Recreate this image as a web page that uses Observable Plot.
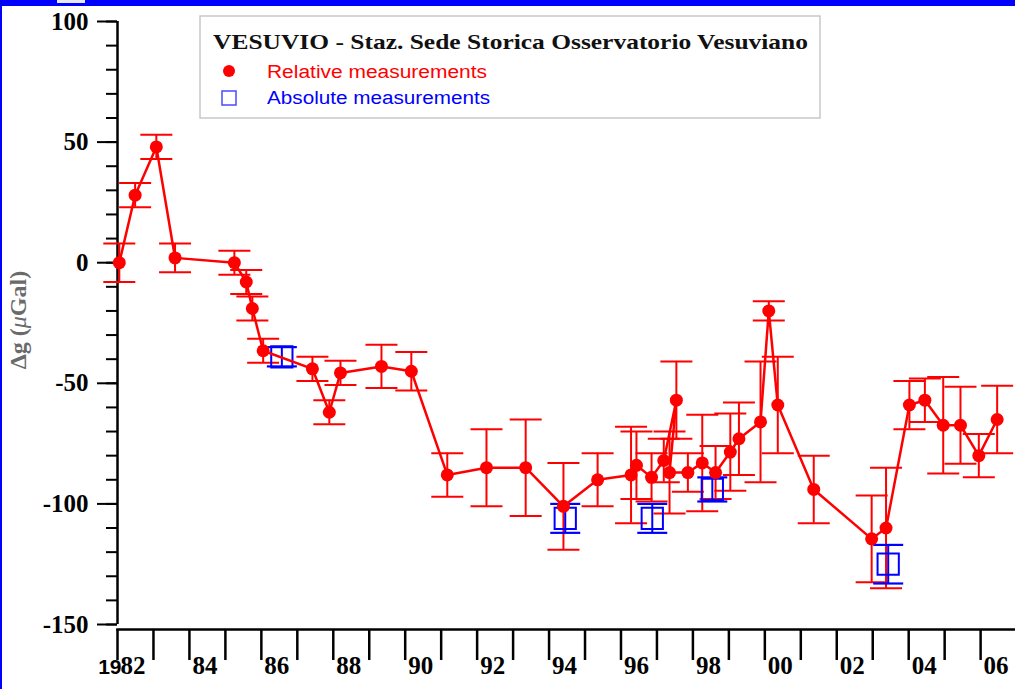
<!DOCTYPE html>
<html><head><meta charset="utf-8">
<script src="https://cdn.jsdelivr.net/npm/d3@7"></script>
<script src="https://cdn.jsdelivr.net/npm/@observablehq/plot@0.6"></script>
<style>
html,body{margin:0;padding:0;background:#fff;}
#chart{position:relative;width:1015px;height:689px;overflow:hidden;}
</style></head><body><div id="chart"></div>
<script>
// Relative measurements (red)
const relYear = [1982.05, 1982.49, 1983.08, 1983.6, 1985.25, 1985.58, 1985.75, 1986.05, 1987.42, 1987.89, 1988.2, 1989.34, 1990.17, 1991.17, 1992.26, 1993.35, 1994.4, 1995.35, 1996.28, 1996.43, 1996.85, 1997.19, 1997.54, 1997.35, 1997.86, 1998.26, 1998.63, 1999.04, 1999.28, 1999.88, 2000.11, 2000.36, 2001.36, 2002.97, 2003.37, 2004.02, 2004.45, 2004.96, 2005.44, 2005.95, 2006.46];
const relValue = [0, 28, 48, 2, 0, -8, -19, -36.5, -44, -62, -45.7, -43, -45, -88, -85, -85, -101, -90, -88, -84, -89, -82, -57, -87, -87, -83, -87, -78.5, -73, -66, -20, -59, -94, -114.5, -110, -59, -57, -67.4, -67.4, -80, -65];
const relErr = [8, 5, 5, 6, 5, 5, 5, 5, 5, 5, 5, 9, 8, 9, 16, 20, 18, 11, 20, 14, 10, 9, 16, 17, 8, 20, 11, 16, 15, 25, 4, 20, 14, 18, 25, 10, 9, 20, 16, 9, 14];

// Absolute measurements (blue)
const absYear = [1986.57, 1994.45, 1996.87, 1998.54, 2003.43];
const absValue = [-39, -106, -106, -94, -125];
const absErr = [4, 6, 6, 5, 8];

// Axis ticks and labels
const yTicksMajor = [-150, -100, -50, 0, 50, 100];
const yTicksMinor = [-150, -140, -130, -120, -110, -100, -90, -80, -70, -60, -50, -40, -30, -20, -10, 0, 10, 20, 30, 40, 50, 60, 70, 80, 90, 100];
const xTickYears = [1982, 1983, 1984, 1985, 1986, 1987, 1988, 1989, 1990, 1991, 1992, 1993, 1994, 1995, 1996, 1997, 1998, 1999, 2000, 2001, 2002, 2003, 2004, 2005, 2006];
const xLabelYears = [1982, 1984, 1986, 1988, 1990, 1992, 1994, 1996, 1998, 2000, 2002, 2004, 2006];
const xLabels = ["82", "84", "86", "88", "90", "92", "94", "96", "98", "00", "02", "04", "06"];
const centuryPrefix = ["19"];
const yDomain = [-150, 100];
const xDomain = [1982, 2006.97];

const titleText = "VESUVIO - Staz. Sede Storica Osservatorio Vesuviano";
const legendLabels = ["Relative measurements", "Absolute measurements"];
const yAxisLabel = ["Δg (", "μ", "Gal)"];

const rel = relYear.map((x, i) => ({x, y: relValue[i], lo: relValue[i] - relErr[i], hi: relValue[i] + relErr[i]}));
const abs = absYear.map((x, i) => ({x, y: absValue[i], lo: absValue[i] - absErr[i], hi: absValue[i] + absErr[i]}));

const capSymbol = {
  draw(ctx, size) {
    const r = Math.sqrt(size / Math.PI);
    ctx.moveTo(-r, 0);
    ctx.lineTo(r, 0);
  }
};

const RED = "#ff0000";
const BLUE = "#0000ff";

const plot = Plot.plot({
  width: 1015,
  height: 689,
  marginLeft: 117,
  marginRight: 0,
  marginTop: 21,
  marginBottom: 60,
  x: {domain: xDomain},
  y: {domain: yDomain, range: [624, 21]},
  style: {fontFamily: "'Liberation Serif', 'Times New Roman', serif", color: "black", background: "white", overflow: "visible"},
  marks: [
    // y axis
    Plot.ruleX([xDomain[0]], {y1: yDomain[0], y2: yDomain[1], strokeWidth: 2.5}),
    Plot.axisY(yTicksMinor, {tickSize: 11, text: null, strokeWidth: 2, label: null}),
    Plot.axisY(yTicksMajor, {tickSize: 20, tickPadding: 9, fontSize: 25, fontWeight: "bold", strokeWidth: 2, tickFormat: d => String(d), label: null}),
    // x axis
    Plot.frame({anchor: "bottom", strokeWidth: 2.5}),
    Plot.axisX(xTickYears, {tickSize: 31, text: null, strokeWidth: 2.5, label: null}),
    Plot.text(xLabelYears, {x: d => d, text: (d, i) => xLabels[i], frameAnchor: "bottom", dy: 44, dx: 3, textAnchor: "start", lineAnchor: "bottom", fontSize: 25, fontWeight: "bold"}),
    Plot.text([xDomain[0]], {x: d => d, text: () => centuryPrefix[0], frameAnchor: "bottom", dy: 44, dx: 4, textAnchor: "end", lineAnchor: "bottom", fontSize: 21, fontWeight: 900, fontFamily: "'Liberation Sans', Arial, sans-serif"}),
    // relative error bars
    Plot.ruleX(rel, {x: "x", y1: "lo", y2: "hi", stroke: RED, strokeWidth: 2}),
    Plot.dot(rel, {x: "x", y: "hi", symbol: capSymbol, r: 16, stroke: RED, strokeWidth: 2}),
    Plot.dot(rel, {x: "x", y: "lo", symbol: capSymbol, r: 16, stroke: RED, strokeWidth: 2}),
    // absolute
    Plot.ruleX(abs, {x: "x", y1: "lo", y2: "hi", stroke: BLUE, strokeWidth: 2}),
    Plot.dot(abs, {x: "x", y: "hi", symbol: capSymbol, r: 15, stroke: BLUE, strokeWidth: 2.2}),
    Plot.dot(abs, {x: "x", y: "lo", symbol: capSymbol, r: 15, stroke: BLUE, strokeWidth: 2.2}),
    Plot.dot(abs, {x: "x", y: "y", symbol: "square", r: 12, stroke: BLUE, fill: "none", strokeWidth: 2}),
    // relative line + dots
    Plot.line(rel, {x: "x", y: "y", stroke: RED, strokeWidth: 2.5, curve: "linear"}),
    Plot.dot(rel, {x: "x", y: "y", r: 6.5, fill: RED, stroke: "none"})
  ]
});

document.getElementById("chart").appendChild(plot);

const svg = d3.select(plot);
// blue frame
svg.append("rect").attr("x", 0).attr("y", 0).attr("width", 1015).attr("height", 6).attr("fill", BLUE);
svg.append("rect").attr("x", 57).attr("y", 0).attr("width", 28).attr("height", 3).attr("fill", "#e8e8f0");
svg.append("rect").attr("x", 0).attr("y", 0).attr("width", 2).attr("height", 689).attr("fill", BLUE);

// y axis title
svg.append("text")
  .attr("transform", "translate(26,320) rotate(-90)")
  .attr("text-anchor", "middle")
  .attr("font-family", "'Liberation Serif', serif")
  .attr("font-size", 24)
  .attr("font-weight", "bold")
  .attr("fill", "#6a6a6a")
  .call(t => {
    t.append("tspan").text(yAxisLabel[0]);
    t.append("tspan").attr("font-style", "italic").attr("font-weight", "normal").text(yAxisLabel[1]);
    t.append("tspan").text(yAxisLabel[2]);
  });

// legend
const lg = svg.append("g").attr("text-anchor", "start");
lg.append("rect").attr("x", 200).attr("y", 16).attr("width", 620).attr("height", 102)
  .attr("fill", "white").attr("stroke", "#c8c8c8").attr("stroke-width", 1.5);
lg.append("text").attr("x", 213).attr("y", 49).attr("text-anchor", "start")
  .attr("font-family", "'Liberation Serif', serif").attr("font-size", 22).attr("font-weight", "bold")
  .attr("fill", "#111").attr("textLength", 595).attr("lengthAdjust", "spacingAndGlyphs").text(titleText);
lg.append("circle").attr("cx", 229).attr("cy", 71).attr("r", 6).attr("fill", RED);
lg.append("text").attr("x", 267).attr("y", 78).attr("text-anchor", "start")
  .attr("font-family", "'Liberation Sans', Arial, sans-serif").attr("font-size", 18)
  .attr("fill", RED).attr("textLength", 220).attr("lengthAdjust", "spacingAndGlyphs").text(legendLabels[0]);
lg.append("rect").attr("x", 222).attr("y", 91).attr("width", 14).attr("height", 14)
  .attr("fill", "none").attr("stroke", "#4a4aff").attr("stroke-width", 1.5);
lg.append("text").attr("x", 267).attr("y", 104).attr("text-anchor", "start")
  .attr("font-family", "'Liberation Sans', Arial, sans-serif").attr("font-size", 18)
  .attr("fill", BLUE).attr("textLength", 223).attr("lengthAdjust", "spacingAndGlyphs").text(legendLabels[1]);
</script></body></html>
